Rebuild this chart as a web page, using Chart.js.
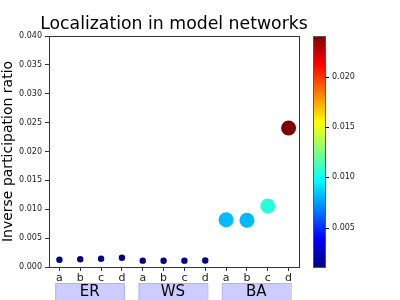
<!DOCTYPE html>
<html>
<head>
<meta charset="utf-8">
<script src="https://cdn.jsdelivr.net/npm/chart.js@4"></script>
<style>
  body { margin: 0; background: #fff; }
  #wrap { width: 400px; height: 300px; }
</style>
</head>
<body>
<div id="wrap"><canvas id="ipr" width="400" height="300"></canvas></div>
<script>
// values
const groups = ['ER', 'WS', 'BA'];
const subLabels = ['a', 'b', 'c', 'd'];
const erValues = [0.00126, 0.00133, 0.00144, 0.00161];
const wsValues = [0.00110, 0.00108, 0.00110, 0.00112];
const baValues = [0.00819, 0.00810, 0.01056, 0.02407];
const yTicks = [0, 0.005, 0.010, 0.015, 0.020, 0.025, 0.030, 0.035, 0.040];
const cbarTicks = [0.005, 0.010, 0.015, 0.020];
const chartTitle = 'Localization in model networks';

const FONT = 'DejaVu Sans';
const allSeries = [erValues, wsValues, baValues];

var points = [];
allSeries.forEach(function (vals, g) {
    vals.forEach(function (v, j) {
        points.push({ x: g * subLabels.length + j, y: v });
    });
});

const allVals = points.map(p => p.y);
const vmin = Math.min.apply(null, allVals);
const vmax = Math.max.apply(null, allVals);

function jet(t) {
    t = Math.max(0, Math.min(1, t));
    function c(x) { return Math.round(255 * Math.max(0, Math.min(1, x))); }
    var r = c(1.5 - Math.abs(4 * t - 3));
    var g = c(1.5 - Math.abs(4 * t - 2));
    var b = c(1.5 - Math.abs(4 * t - 1));
    return 'rgb(' + r + ',' + g + ',' + b + ')';
}

// title, frame, colorbar and group boxes
const extras = {
    id: 'extras',
    afterDraw(chart) {
        const ctx = chart.ctx;
        const area = chart.chartArea;
        const xs = chart.scales.x;
        const cb = chart.scales.cbar;

        ctx.save();
        // title centred over the axes (the built-in one squeezes it to the box width)
        ctx.fillStyle = '#000';
        ctx.font = '17.3px ' + FONT;
        ctx.textAlign = 'center';
        ctx.textBaseline = 'alphabetic';
        ctx.fillText(chartTitle, (area.left + area.right) / 2, 29);

        ctx.strokeStyle = '#333';
        ctx.lineWidth = 1;
        ctx.strokeRect(area.left + 0.5, area.top + 0.5, area.right - area.left, area.bottom - area.top);

        // colorbar
        const cx = area.right + 14, cw = 12;
        for (let py = Math.floor(cb.top); py < cb.bottom; py++) {
            ctx.fillStyle = jet((cb.getValueForPixel(py + 0.5) - vmin) / (vmax - vmin));
            ctx.fillRect(cx, py, cw, 1);
        }
        ctx.strokeStyle = '#555';
        ctx.strokeRect(cx + 0.5, cb.top + 0.5, cw, cb.bottom - cb.top);
        ctx.strokeStyle = '#000';
        cbarTicks.forEach(function (t) {
            const py = Math.round(cb.getPixelForValue(t)) + 0.5;
            ctx.beginPath();
            ctx.moveTo(cx + cw, py);
            ctx.lineTo(cx + cw + 4, py);
            ctx.stroke();
        });

        // group label boxes
        ctx.font = '15px ' + FONT;
        ctx.textBaseline = 'middle';
        groups.forEach(function (name, g) {
            const x0 = xs.getPixelForValue(g * 4 - 0.2);
            const x1 = xs.getPixelForValue(g * 4 + 3.1);
            ctx.fillStyle = 'rgb(204,204,255)';
            ctx.fillRect(x0, 283, x1 - x0, 20);
            ctx.strokeStyle = 'rgb(180,180,235)';
            ctx.strokeRect(x0 + 0.5, 283.5, x1 - x0, 20);
            ctx.fillStyle = '#000';
            ctx.fillText(name, (x0 + x1) / 2, 292);
        });
        ctx.restore();
    }
};

var iprChart = new Chart(document.getElementById('ipr').getContext('2d'), {
    type: 'scatter',
    data: {
        datasets: [{
            data: points,
            pointRadius: ctx => (ctx.raw && ctx.raw.y > 0.005 ? 7.5 : 3.2),
            pointHoverRadius: ctx => (ctx.raw && ctx.raw.y > 0.005 ? 7.5 : 3.2),
            pointBorderWidth: 0,
            pointBackgroundColor: ctx => jet(((ctx.raw ? ctx.raw.y : vmin) - vmin) / (vmax - vmin)),
            pointBorderColor: 'rgba(0,0,0,0)'
        }]
    },
    options: {
        responsive: false,
        animation: false,
        layout: { padding: { top: 36 }, autoPadding: false },
        plugins: {
            legend: { display: false },
            tooltip: { enabled: false },
            title: { display: false }
        },
        scales: {
            x: {
                type: 'linear',
                min: -0.5,
                max: 11.5,
                afterBuildTicks: s => { s.ticks = points.map(p => ({ value: p.x })); },
                afterFit: s => { s.height = 33; },
                ticks: {
                    color: '#222',
                    font: { family: FONT, size: 11 },
                    padding: 1,
                    maxRotation: 0,
                    autoSkip: false,
                    callback: v => subLabels[v % subLabels.length]
                },
                grid: { drawOnChartArea: false, tickLength: 4, color: '#333' },
                border: { color: '#333' }
            },
            y: {
                min: 0,
                max: 0.04,
                afterBuildTicks: s => { s.ticks = yTicks.map(v => ({ value: v })); },
                afterFit: s => { s.width = 49; },
                title: {
                    display: true,
                    text: 'Inverse participation ratio',
                    color: '#000',
                    font: { family: FONT, size: 14 },
                    padding: 0
                },
                ticks: {
                    color: '#222',
                    font: { family: FONT, size: 8 },
                    padding: 3,
                    callback: v => v.toFixed(3)
                },
                grid: { drawOnChartArea: false, tickLength: 4, color: '#333' },
                border: { color: '#333' }
            },
            cbar: {
                type: 'linear',
                position: 'right',
                min: vmin,
                max: vmax,
                afterBuildTicks: s => { s.ticks = cbarTicks.map(v => ({ value: v })); },
                afterFit: s => { s.width = 101; },
                ticks: {
                    color: '#222',
                    font: { family: FONT, size: 8 },
                    padding: 3,
                    callback: v => v.toFixed(3)
                },
                // invisible tick marks push the labels past the colour bar
                grid: { display: true, drawOnChartArea: false, tickLength: 30, tickColor: 'rgba(0,0,0,0)' },
                border: { display: false }
            }
        }
    },
    plugins: [extras]
});
</script>
</body>
</html>
